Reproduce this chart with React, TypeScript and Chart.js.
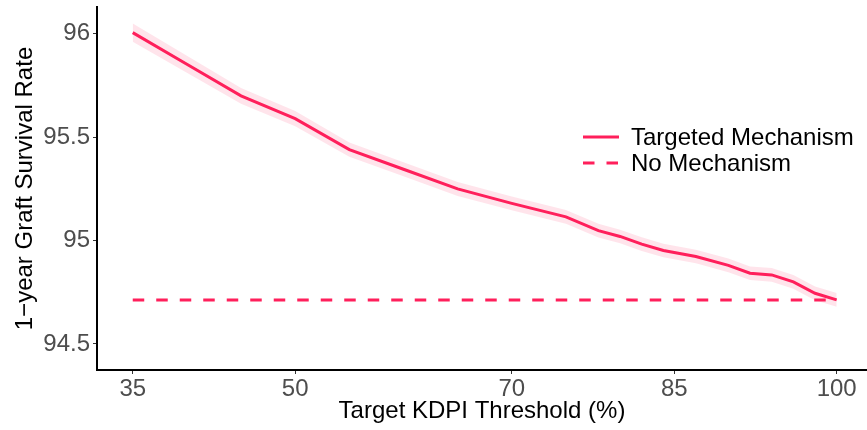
import React, { useEffect, useRef } from "react";
import { Chart, registerables } from "chart.js";

Chart.register(...registerables);

// ---- data ----
const kdpiThreshold = [35, 40, 45, 50, 55, 60, 65, 70, 75, 78, 80, 82, 84, 87, 90, 92, 94, 96, 98, 100];
const survivalTargeted = [96.006, 95.853, 95.70, 95.59, 95.44, 95.345, 95.25, 95.18, 95.115, 95.048, 95.02, 94.983, 94.952, 94.923, 94.88, 94.842, 94.834, 94.80, 94.745, 94.713];
const ciLower = [95.962, 95.812, 95.662, 95.553, 95.405, 95.311, 95.216, 95.147, 95.082, 95.015, 94.987, 94.950, 94.919, 94.890, 94.847, 94.809, 94.801, 94.767, 94.712, 94.680];
const ciUpper = [96.050, 95.894, 95.738, 95.627, 95.475, 95.379, 95.284, 95.213, 95.148, 95.081, 95.053, 95.016, 94.985, 94.956, 94.913, 94.875, 94.867, 94.833, 94.778, 94.746];
const noMechanismX = [35, 100];
const noMechanismY = [94.713, 94.713];

const xTicks = [35, 50, 70, 85, 100];
const yTicks = [94.5, 95, 95.5, 96];

const seriesLabels = ["Targeted Mechanism", "No Mechanism"];
const xTitle = "Target KDPI Threshold (%)";
const yTitle = "1\u2212year Graft Survival Rate";

const LINE = "#FF1F5B";
const RIBBON = "rgba(255, 31, 91, 0.12)";
const FONT = "'Liberation Sans', Arial, sans-serif";
const FS = 24;

const legendPlugin = {
  id: "customLegend",
  afterDatasetsDraw(chart: any) {
    const ctx = chart.ctx;
    const x0 = 583;
    const lineLen = 36;
    const ys = [137, 163];
    ctx.save();
    ctx.font = `${FS}px ${FONT}`;
    ctx.textBaseline = "middle";
    ctx.fillStyle = "#000";
    seriesLabels.forEach((lab, i) => {
      ctx.beginPath();
      ctx.strokeStyle = LINE;
      ctx.lineWidth = 3;
      ctx.setLineDash(i === 0 ? [] : [11.5, 12]);
      ctx.moveTo(x0, ys[i]);
      ctx.lineTo(x0 + lineLen, ys[i]);
      ctx.stroke();
      ctx.setLineDash([]);
      ctx.fillText(lab, 631, ys[i] + 1);
    });
    ctx.restore();
  },
};

export default function App() {
  const ref = useRef<HTMLCanvasElement>(null);

  useEffect(() => {
    document.body.style.margin = "0";
    const toXY = (xs: number[], ys: number[]) => xs.map((x, i) => ({ x, y: ys[i] }));
    const chart = new Chart(ref.current!, {
      type: "line",
      data: {
        datasets: [
          {
            label: "ci-upper",
            data: toXY(kdpiThreshold, ciUpper),
            borderWidth: 0,
            pointRadius: 0,
            backgroundColor: RIBBON,
            fill: "+1",
            order: 3,
          },
          {
            label: "ci-lower",
            data: toXY(kdpiThreshold, ciLower),
            borderWidth: 0,
            pointRadius: 0,
            fill: false,
            order: 3,
          },
          {
            label: seriesLabels[0],
            data: toXY(kdpiThreshold, survivalTargeted),
            borderColor: LINE,
            borderWidth: 3,
            pointRadius: 0,
            fill: false,
            tension: 0,
            order: 1,
          },
          {
            label: seriesLabels[1],
            data: toXY(noMechanismX, noMechanismY),
            borderColor: LINE,
            borderWidth: 3,
            borderDash: [11.5, 12],
            pointRadius: 0,
            fill: false,
            order: 2,
          },
        ],
      },
      options: {
        animation: false,
        responsive: true,
        maintainAspectRatio: false,
        layout: { padding: { top: 7, left: 0, right: 0, bottom: 0 } },
        plugins: {
          legend: { display: false },
          tooltip: { enabled: false },
        },
        scales: {
          x: {
            type: "linear",
            min: 31.7,
            max: 102.8,
            afterBuildTicks: (s: any) => {
              s.ticks = xTicks.map((v) => ({ value: v }));
            },
            afterFit: (s: any) => {
              s.height = 60;
              s.paddingLeft = 0;
              s.paddingRight = 0;
            },
            grid: { drawOnChartArea: false, drawTicks: true, tickLength: 4, color: "#333333", lineWidth: 1 },
            border: { display: true, color: "#000", width: 2 },
            ticks: {
              color: "#4D4D4D",
              font: { family: FONT, size: FS },
              padding: 1,
              maxRotation: 0,
              autoSkip: false,
              callback: (v: any) => String(v),
            },
            title: {
              display: true,
              text: xTitle,
              color: "#000",
              font: { family: FONT, size: FS },
              padding: { top: 0, bottom: 4 },
            },
          },
          y: {
            type: "linear",
            min: 94.374,
            max: 96.13,
            afterBuildTicks: (s: any) => {
              s.ticks = yTicks.map((v) => ({ value: v }));
            },
            afterFit: (s: any) => {
              s.width = 97;
              s.paddingTop = 0;
              s.paddingBottom = 0;
            },
            grid: { drawOnChartArea: false, drawTicks: true, tickLength: 4, color: "#333333", lineWidth: 1 },
            border: { display: true, color: "#000", width: 2 },
            ticks: {
              color: "#4D4D4D",
              font: { family: FONT, size: FS },
              padding: 3,
              autoSkip: false,
              callback: (v: any) => String(v),
            },
            title: {
              display: true,
              text: yTitle,
              color: "#000",
              font: { family: FONT, size: FS },
              padding: { top: 11, bottom: 0 },
            },
          },
        },
      },
      plugins: [legendPlugin],
    } as any);
    return () => chart.destroy();
  }, []);

  return (
    <div style={{ position: "absolute", left: 0, top: 0, width: 867, height: 430, background: "#fff" }}>
      <canvas ref={ref} />
    </div>
  );
}
